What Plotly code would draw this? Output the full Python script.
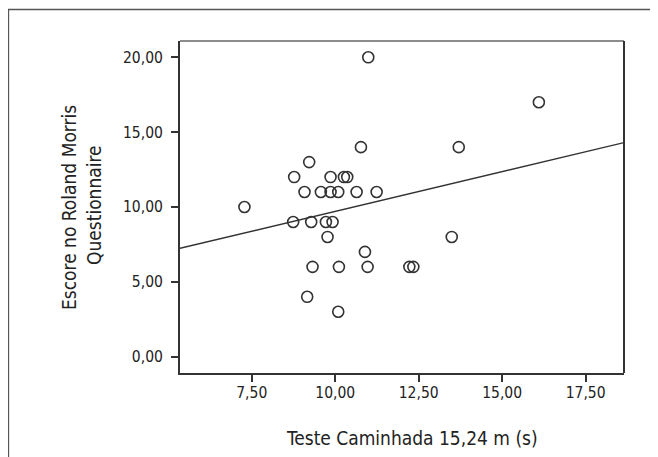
import plotly.graph_objects as go

# Data
teste_caminhada = [10.99, 10.77, 13.70, 16.10, 9.22, 8.77, 9.86, 10.26, 10.36, 9.08,
                   9.57, 9.86, 10.09, 10.64, 11.24, 7.28, 8.74, 9.28, 9.72, 9.92,
                   9.77, 10.89, 13.49, 9.32, 10.11, 10.97, 12.22, 12.34, 9.16, 10.09]
escore_roland = [20, 14, 14, 17, 13, 12, 12, 12, 12, 11,
                 11, 11, 11, 11, 11, 10, 9, 9, 9, 9,
                 8, 7, 8, 6, 6, 6, 6, 6, 4, 3]
fit_x = [5.35, 18.65]
fit_y = [7.24, 14.30]

x_tickvals = [7.5, 10.0, 12.5, 15.0, 17.5]
x_ticktext = ["7,50", "10,00", "12,50", "15,00", "17,50"]
y_tickvals = [0, 5, 10, 15, 20]
y_ticktext = ["0,00", "5,00", "10,00", "15,00", "20,00"]

FONT = "DejaVu Sans Condensed, Liberation Sans, sans-serif"
OFF = 8  # page body margin offset
W, H = 658 - OFF, 457 - OFF
L, R, T, B = 180 - OFF, 34, 41 - OFF, 84

def px_x(p):  # p in page pixels
    return (p - OFF - L) / (W - L - R)

def px_y(p):
    return (H - B - (p - OFF)) / (H - T - B)

fig = go.Figure()
fig.add_trace(go.Scatter(x=fit_x, y=fit_y, mode="lines",
                         line=dict(color="#333333", width=1.4),
                         hoverinfo="skip", showlegend=False))
fig.add_trace(go.Scatter(x=teste_caminhada, y=escore_roland, mode="markers",
                         marker=dict(symbol="circle-open", size=11,
                                     line=dict(color="#333333", width=1.6),
                                     color="#333333"),
                         showlegend=False))

shapes = [
    dict(type="line", xref="paper", yref="paper", x0=0, x1=1, y0=1, y1=1,
         line=dict(color="#8c8c8c", width=2)),
    dict(type="line", xref="paper", yref="paper", x0=1, x1=1, y0=0, y1=1,
         line=dict(color="#333333", width=2)),
    dict(type="line", xref="paper", yref="paper", x0=px_x(8), x1=px_x(660),
         y0=px_y(9.5), y1=px_y(9.5), line=dict(color="#555555", width=1.3)),
    dict(type="line", xref="paper", yref="paper", x0=px_x(8.5), x1=px_x(8.5),
         y0=px_y(9), y1=px_y(460), line=dict(color="#555555", width=1.3)),
]

annotations = [
    dict(text="Escore no Roland Morris", xref="paper", yref="paper",
         x=px_x(69), y=px_y(208), textangle=-90, showarrow=False,
         xanchor="center", yanchor="middle",
         font=dict(family=FONT, size=19, color="#222222")),
    dict(text="Questionnaire", xref="paper", yref="paper",
         x=px_x(94), y=px_y(205), textangle=-90, showarrow=False,
         xanchor="center", yanchor="middle",
         font=dict(family=FONT, size=19, color="#222222")),
    dict(text="Teste Caminhada 15,24 m (s)", xref="paper", yref="paper",
         x=px_x(412), y=px_y(438), showarrow=False,
         xanchor="center", yanchor="middle",
         font=dict(family=FONT, size=19, color="#222222")),
]

fig.update_layout(
    width=W, height=H,
    margin=dict(l=L, r=R, t=T, b=B, pad=0),
    paper_bgcolor="white", plot_bgcolor="white",
    font=dict(family=FONT, color="#222222"),
    shapes=shapes, annotations=annotations,
    xaxis=dict(range=[5.35, 18.65], tickvals=x_tickvals, ticktext=x_ticktext,
               showgrid=False, zeroline=False, showline=True, linecolor="#333333",
               linewidth=2, ticks="outside", ticklen=7, tickwidth=2, tickcolor="#333333",
               ticklabelstandoff=-3,
               tickfont=dict(family=FONT, size=15.5, color="#222222")),
    yaxis=dict(range=[-1.09, 21.09], tickvals=y_tickvals, ticktext=y_ticktext,
               showgrid=False, zeroline=False, showline=True, linecolor="#333333",
               linewidth=2, ticks="outside", ticklen=7, tickwidth=2, tickcolor="#333333",
               ticklabelstandoff=5,
               tickfont=dict(family=FONT, size=15.5, color="#222222")),
)

fig.write_html("out.html")
